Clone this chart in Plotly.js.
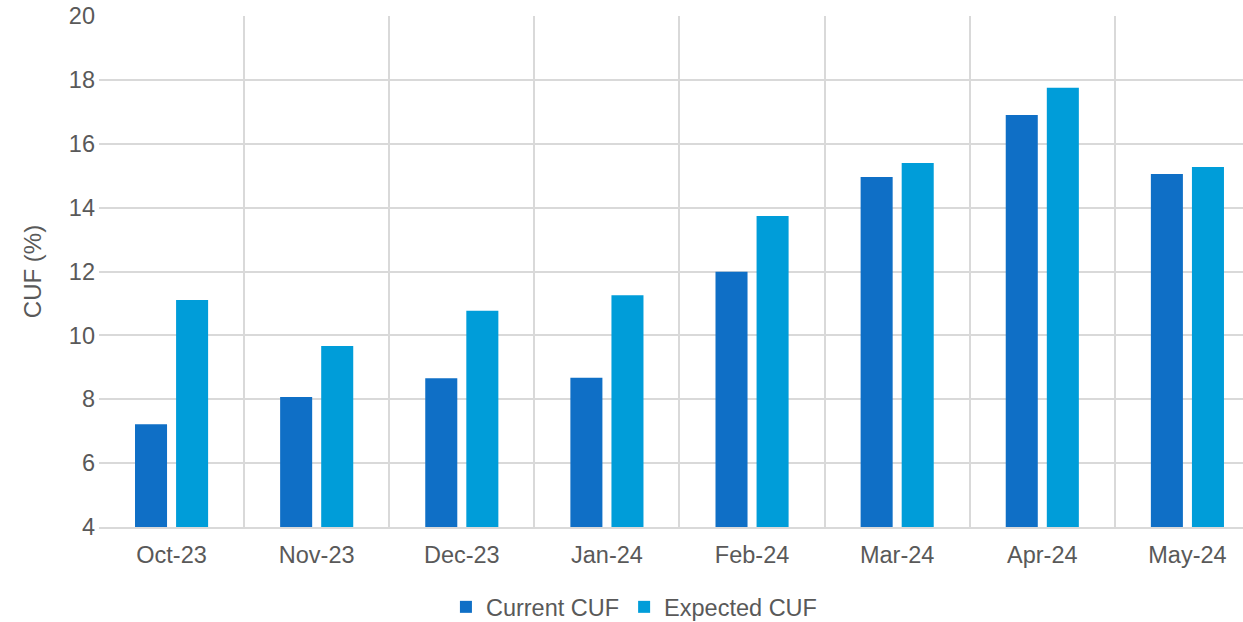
<!DOCTYPE html>
<html>
<head>
<meta charset="utf-8">
<script src="https://cdn.plot.ly/plotly-3.0.1.min.js"></script>
<style>html,body{margin:0;padding:0;background:#fff;}#chart{width:1243px;height:622px;}</style>
</head>
<body>
<div id="chart"></div>
<script>
const months = ["Oct-23","Nov-23","Dec-23","Jan-24","Feb-24","Mar-24","Apr-24","May-24"];
const currentCUF = [7.22, 8.07, 8.66, 8.67, 11.99, 14.96, 16.90, 15.05];
const expectedCUF = [11.11, 9.67, 10.77, 11.26, 13.74, 15.40, 17.75, 15.27];
const yTicks = [4, 6, 8, 10, 12, 14, 16, 18, 20];

const fam = "Liberation Sans, Arial, sans-serif";
const font = {family: fam, size: 23.5, color: "#595959"};

const traces = [
  {type: "bar", name: "Current CUF", x: months, y: currentCUF,
   marker: {color: "#0F6FC6", line: {width: 0}}, hoverinfo: "x+y"},
  {type: "bar", name: "Expected CUF", x: months, y: expectedCUF,
   marker: {color: "#009DD9", line: {width: 0}}, hoverinfo: "x+y"}
];

const layout = {
  width: 1243, height: 622,
  margin: {l: 99, r: 0, t: 16, b: 95},
  paper_bgcolor: "#fff", plot_bgcolor: "#fff",
  font: font,
  barmode: "group", bargap: 0.434, bargroupgap: 0.22,
  showlegend: true,
  legend: {orientation: "h", xref: "container", yref: "container", x: 0.51, xanchor: "center",
           y: 0.024, yanchor: "middle", font: font, itemwidth: 30, tracegroupgap: 0, traceorder: "normal"},
  xaxis: {type: "category", range: [-0.5, 7.383], tickson: "boundaries",
          showgrid: true, gridcolor: "#d9d9d9", gridwidth: 2,
          showline: true, linecolor: "#d9d9d9", linewidth: 2,
          ticks: "", tickfont: font, ticklabelstandoff: 6, fixedrange: true},
  yaxis: {range: [4, 20], tickvals: yTicks, showgrid: true, gridcolor: "#d9d9d9", gridwidth: 2,
          zeroline: false, showline: false, ticks: "", tickfont: font, ticklabelstandoff: 3,
          title: {text: "CUF (%)", font: {family: fam, size: 24, color: "#595959"}, standoff: 20},
          fixedrange: true}
};

Plotly.newPlot("chart", traces, layout, {displayModeBar: false, staticPlot: true});
</script>
</body>
</html>
